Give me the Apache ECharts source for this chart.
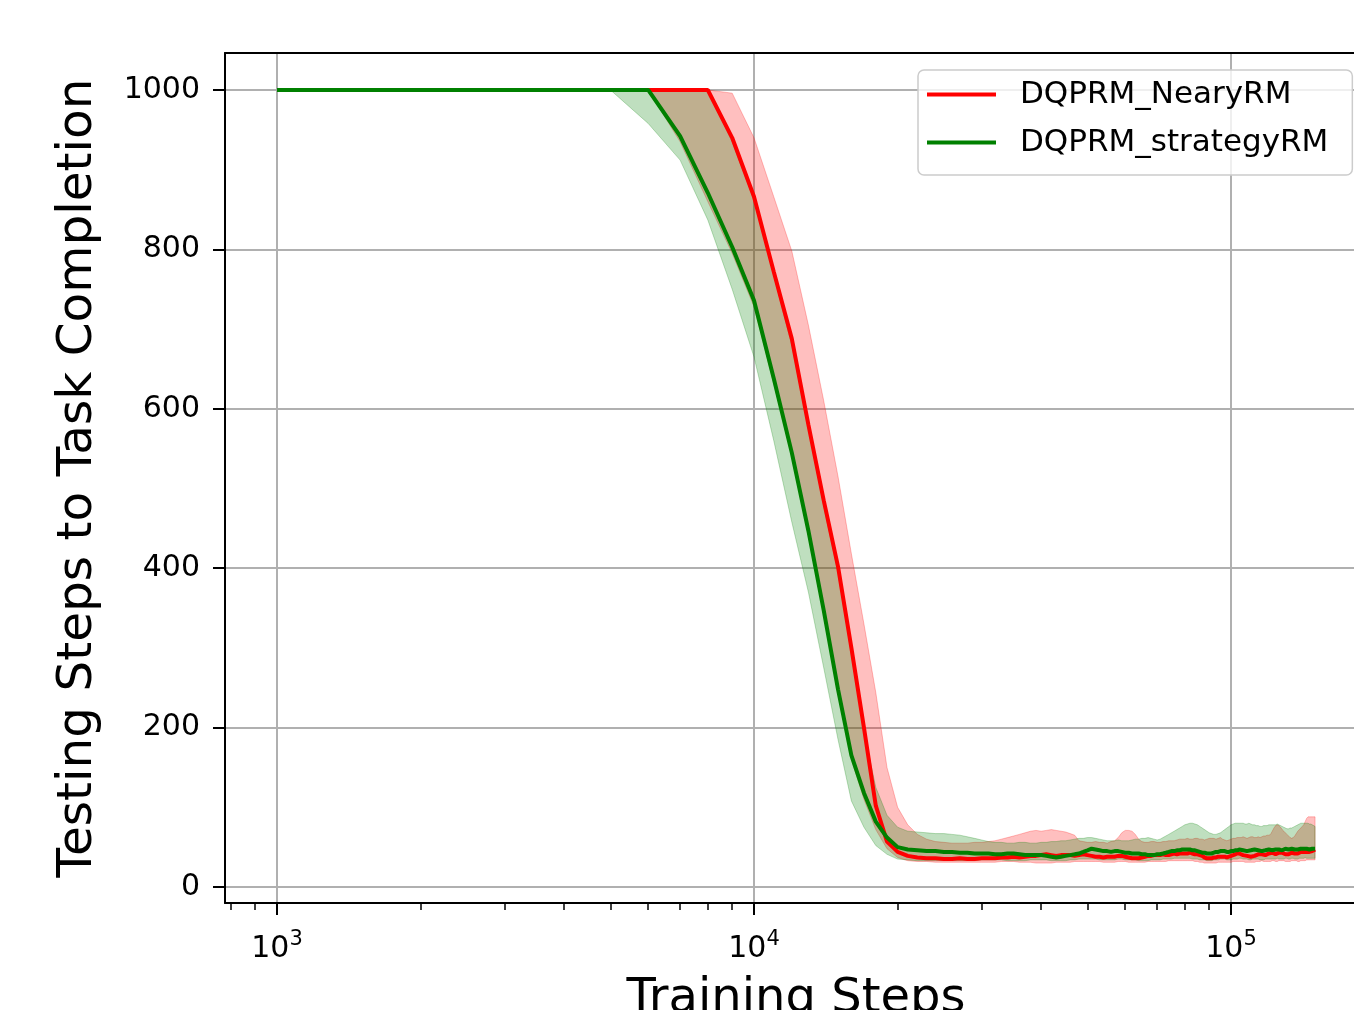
<!DOCTYPE html>
<html><head><meta charset="utf-8">
<script src="https://cdn.jsdelivr.net/npm/echarts@6/dist/echarts.min.js"></script>
<style>html,body{margin:0;padding:0;background:#fff}#c{width:1354px;height:1010px}</style>
</head><body><div id="c"></div>
<script>
// Training steps (in thousands)
const stepsK = [1,2,3,4,5,6,7,8,9,10,11,12,13,14,15,16,17,18,19,20,
21,22,23,24,25,26,27,28,29,30,31,32,33,34,35,36,37,38,39,40,
41,42,43,44,45,46,47,48,49,50,51,52,53,54,55,56,57,58,59,60,
61,62,63,64,65,66,67,68,69,70,71,72,73,74,75,76,77,78,79,80,
81,82,83,84,85,86,87,88,89,90,91,92,93,94,95,96,97,98,99,100,
101,102,103,104,105,106,107,108,109,110,111,112,113,114,115,116,117,118,119,120,
121,122,123,124,125,126,127,128,129,130,131,132,133,134,135,136,137,138,139,140,
141,142,143,144,145,146,147,148,149,150];

const nearyMean = [1000,1000,1000,1000,1000,1000,1000,1000,940,866,
772,688,580,485,402,300,200,102,57,44,
39,37,36,36,35,35,36,35,35,36,
36,36,37,37,38,37,38,39,39,40,
41,40,39,40,40,40,39,40,41,40,
39,38,38,37,38,38,38,39,39,38,
37,36,36,36,37,38,39,39,40,40,
40,41,40,40,41,42,41,42,42,42,
42,43,42,41,41,40,39,37,36,36,
36,37,37,38,38,38,38,37,38,39,
40,41,42,42,41,40,40,39,38,38,
38,39,40,41,42,41,40,40,41,42,
42,43,42,41,42,43,44,43,42,41,
40,41,42,43,43,42,41,42,43,44,
45,44,43,44,45,44,44,45,46,47];

const nearyUpper = [1000,1000,1000,1000,1000,1000,1000,1000,996,940,
866,798,705,610,515,418,330,244,150,100,
78,66,60,57,56,55,55,55,56,56,
57,58,60,62,64,66,68,70,71,70,
71,72,71,70,69,67,65,58,57,56,
56,57,56,56,55,57,58,62,68,71,
71,70,66,60,57,56,56,57,57,56,
56,57,57,58,58,58,59,60,60,60,
61,60,60,61,61,60,60,59,60,61,
61,61,60,61,62,60,59,58,59,60,
61,61,62,62,62,63,62,61,62,63,
63,62,62,63,62,63,64,64,65,65,
66,70,74,77,78,77,75,72,70,68,
66,64,62,61,62,64,67,70,72,74,
76,78,82,86,88,88,88,88,88,88];

const nearyLower = [1000,1000,1000,1000,1000,1000,935,860,795,728,
632,540,442,342,245,160,110,72,48,37,
33,32,32,31,31,31,31,31,31,31,
31,31,32,32,32,31,31,31,30,30,
30,30,31,31,31,31,32,32,32,32,
32,32,32,31,31,31,31,32,32,32,
31,31,31,31,31,31,32,32,32,32,
32,32,32,33,33,33,33,33,33,33,
33,33,33,32,32,31,31,30,30,30,
30,30,30,31,31,31,31,31,31,31,
32,32,32,32,32,32,31,31,31,31,
31,31,32,32,32,33,32,32,32,32,
32,33,33,32,32,33,33,33,33,32,
32,32,32,33,33,33,33,32,32,33,
33,33,33,34,34,34,34,34,34,34];

const strategyMean = [1000,1000,1000,1000,1000,1000,942,871,803,736,
638,545,447,347,248,165,118,82,62,50,
47,46,45,45,44,44,43,43,42,42,
42,41,41,42,42,41,40,40,40,40,
39,38,37,38,39,40,41,42,44,46,
48,47,46,45,45,44,45,45,44,43,
43,42,42,42,41,41,40,40,40,41,
41,42,43,44,45,45,46,46,47,47,
47,47,46,46,45,44,43,43,42,42,
42,43,44,44,45,45,45,44,44,45,
45,46,46,47,47,46,46,45,45,46,
46,47,47,46,46,45,45,46,46,47,
47,46,46,47,48,47,47,46,47,48,
48,47,47,48,48,47,46,47,48,48,
47,48,49,48,47,47,48,48,47,48];

const strategyUpper = [1000,1000,1000,1000,1000,1000,1000,1000,935,862,
768,680,575,478,395,292,195,125,90,75,
70,69,68,67,67,66,65,63,61,59,
57,56,56,55,55,56,56,55,55,56,
56,57,57,58,58,59,60,61,61,62,
62,61,60,59,58,58,58,59,58,58,
58,59,60,60,61,61,62,61,60,59,
60,62,64,66,68,70,72,74,76,78,
79,80,80,79,78,76,74,72,70,68,
67,66,66,67,68,70,72,74,76,78,
79,80,80,80,80,80,79,79,80,79,
78,78,77,77,76,76,77,77,77,78,
78,78,78,78,79,78,77,76,75,74,
73,73,74,74,75,76,77,78,79,80,
80,80,80,80,80,79,79,78,77,76];

const strategyLower = [1000,1000,1000,1000,1000,958,912,837,750,665,
560,458,370,275,185,108,75,52,41,35,
34,33,33,33,33,33,33,33,33,34,
34,34,34,33,33,33,33,34,34,34,
34,33,33,33,33,34,34,35,35,35,
35,35,34,34,34,34,34,35,35,34,
34,34,34,33,33,33,33,34,34,34,
34,35,35,35,35,36,36,36,36,36,
36,36,35,35,35,34,34,34,33,33,
33,34,34,34,35,35,35,34,34,34,
35,35,35,36,36,35,35,35,34,34,
35,35,35,35,34,34,34,35,35,35,
35,35,35,35,36,35,35,35,35,36,
36,35,35,36,36,35,35,35,36,36,
36,36,37,36,36,36,36,36,36,36];

const majorTickExp = [3, 4, 5];
const minorTickSteps = [800,900,2000,3000,4000,5000,6000,7000,8000,9000,
20000,30000,40000,50000,60000,70000,80000,90000];
const yTicks = [0, 200, 400, 600, 800, 1000];

const FONT = 'DejaVu Sans';
const xLog = stepsK.map(s => Math.log10(s * 1000));
const X_MIN = 2.891, X_MAX = 5.285, Y_MIN = -20.1, Y_MAX = 1046.4;

function pairs(vals) { return xLog.map((x, i) => [x, vals[i]]); }

function bandSeries(name, lower, upper, fill) {
  const data = xLog.map((x, i) => [x, lower[i], upper[i]]);
  return {
    type: 'custom', name: name + '_band', xAxisIndex: 0, yAxisIndex: 0,
    data: data, encode: { x: 0, y: [1, 2] }, z: 1, silent: true,
    renderItem: function (params, api) {
      if (params.dataIndex !== 0) return null;
      const pts = [];
      for (let i = 0; i < data.length; i++) pts.push(api.coord([data[i][0], data[i][2]]));
      for (let i = data.length - 1; i >= 0; i--) pts.push(api.coord([data[i][0], data[i][1]]));
      return { type: 'polygon', shape: { points: pts },
        style: { fill: fill, stroke: fill, lineWidth: 1 } };
    }
  };
}

const chart = echarts.init(document.getElementById('c'), null, { renderer: 'canvas' });
chart.setOption({
  animation: false,
  backgroundColor: '#ffffff',
  grid: { left: 225, top: 53, width: 1142, height: 850, show: false, containLabel: false,
    outerBoundsMode: 'none' },
  legend: {
    left: 918, top: 70, orient: 'vertical',
    data: [{ name: 'DQPRM_NearyRM', icon: 'rect' }, { name: 'DQPRM_strategyRM', icon: 'rect' }],
    itemWidth: 69, itemHeight: 4, itemGap: 17,
    backgroundColor: 'rgba(255,255,255,0.8)', borderColor: '#cccccc', borderWidth: 1.5, borderRadius: 6,
    padding: [9, 24, 17, 9],
    textStyle: { fontFamily: FONT, fontSize: 31, color: '#000', padding: [0, 0, 0, 19] }
  },
  xAxis: [{
    type: 'value', min: X_MIN, max: X_MAX, position: 'bottom',
    name: 'Training Steps', nameLocation: 'middle', nameGap: 73,
    nameTextStyle: { fontFamily: FONT, fontSize: 48, color: '#000' },
    axisLine: { show: true, onZero: false, lineStyle: { color: '#000', width: 2 } },
    axisTick: { show: true, customValues: majorTickExp, length: 12, lineStyle: { color: '#000', width: 2 } },
    axisLabel: { show: true, customValues: majorTickExp, margin: 26,
      formatter: v => '{b|10}{s|' + v + '}',
      rich: { b: { fontFamily: FONT, fontSize: 30, lineHeight: 40, color: '#000' },
              s: { fontFamily: FONT, fontSize: 21, lineHeight: 21, verticalAlign: 'top', color: '#000' } } },
    splitLine: { show: true, lineStyle: { color: '#b0b0b0', width: 2 } }
  }, {
    type: 'value', min: X_MIN, max: X_MAX, position: 'bottom',
    axisLine: { show: false, onZero: false },
    axisTick: { show: true, customValues: minorTickSteps.map(v => Math.log10(v)), length: 7, lineStyle: { color: '#000', width: 1.5 } },
    axisLabel: { show: false }, splitLine: { show: false }
  }, {
    type: 'value', min: X_MIN, max: X_MAX, position: 'top',
    axisLine: { show: true, onZero: false, lineStyle: { color: '#000', width: 2 } },
    axisTick: { show: false }, axisLabel: { show: false }, splitLine: { show: false }
  }],
  yAxis: {
    type: 'value', min: Y_MIN, max: Y_MAX,
    name: 'Testing Steps to Task Completion', nameLocation: 'middle', nameGap: 122,
    nameTextStyle: { fontFamily: FONT, fontSize: 48.5, color: '#000' },
    axisLine: { show: true, onZero: false, lineStyle: { color: '#000', width: 2 } },
    axisTick: { show: true, customValues: yTicks, length: 12, lineStyle: { color: '#000', width: 2 } },
    axisLabel: { show: true, customValues: yTicks, margin: 25, fontFamily: FONT, fontSize: 30, color: '#000',
      formatter: v => String(v) },
    splitLine: { show: true, lineStyle: { color: '#b0b0b0', width: 2 } }
  },
  series: [
    bandSeries('DQPRM_NearyRM', nearyLower, nearyUpper, 'rgba(255,0,0,0.25)'),
    bandSeries('DQPRM_strategyRM', strategyLower, strategyUpper, 'rgba(0,128,0,0.25)'),
    { type: 'line', name: 'DQPRM_NearyRM', data: pairs(nearyMean), showSymbol: false, symbol: 'none',
      color: '#ff0000', lineStyle: { color: '#ff0000', width: 4 }, z: 3 },
    { type: 'line', name: 'DQPRM_strategyRM', data: pairs(strategyMean), showSymbol: false, symbol: 'none',
      color: '#008000', lineStyle: { color: '#008000', width: 4 }, z: 4 }
  ]
});
</script>
</body></html>
